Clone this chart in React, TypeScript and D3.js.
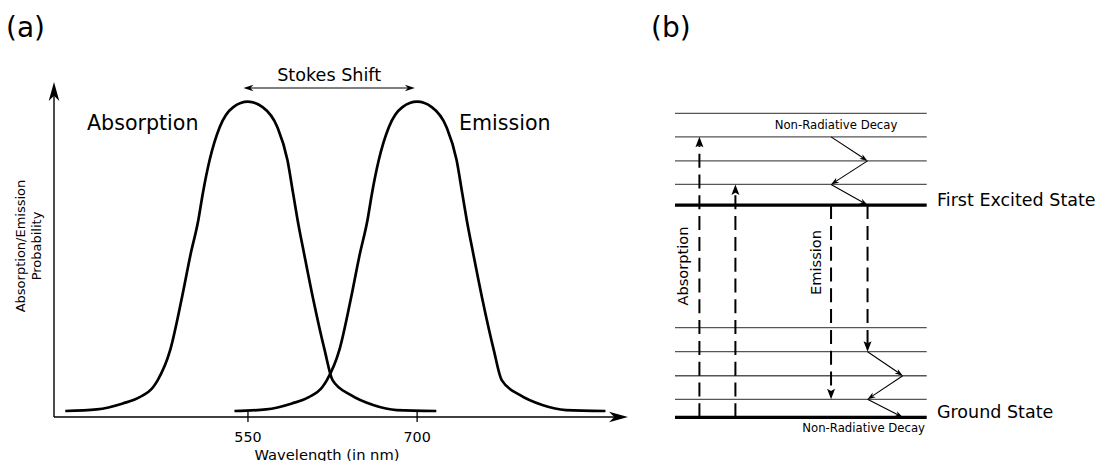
import * as d3 from "d3";
import React, { useEffect, useRef } from "react";

// ---- panel (a): spectra ----
const absorptionWavelength = [388, 416, 439, 454, 466, 470, 481, 491, 499, 506, 510, 516, 525, 537, 550, 563, 576, 585, 590, 594, 600, 608, 618, 625, 641, 661, 682, 717];
const absorptionProbability = [0.019, 0.024, 0.043, 0.063, 0.095, 0.117, 0.212, 0.371, 0.514, 0.625, 0.71, 0.815, 0.92, 0.983, 1.0, 0.983, 0.92, 0.815, 0.71, 0.625, 0.514, 0.371, 0.212, 0.117, 0.07, 0.038, 0.022, 0.019];
const emissionWavelength = [538, 566, 589, 604, 616, 620, 631, 641, 649, 656, 660, 666, 675, 687, 700, 713, 726, 735, 740, 744, 750, 758, 768, 775, 791, 811, 832, 867];
const emissionProbability = [0.019, 0.024, 0.043, 0.063, 0.095, 0.117, 0.212, 0.371, 0.514, 0.625, 0.71, 0.815, 0.92, 0.983, 1.0, 0.983, 0.92, 0.815, 0.71, 0.625, 0.514, 0.371, 0.212, 0.117, 0.07, 0.038, 0.022, 0.019];
const xTicks = [550, 700];
const stokesFrom = 546;
const stokesTo = 698;

// ---- panel (b): energy levels (arbitrary units) ----
const groundLevels = [0, 0.75, 1.73, 2.73, 3.73];
const excitedLevels = [8.83, 9.69, 10.67, 11.67, 12.65];
const absorptionX = [0.97, 2.4];
const absorptionTarget = [3, 1]; // excited level index
const emissionX = [6.2, 7.65];
const emissionTarget = [1, 3]; // ground level index
const upperDecay = [[6.2, 3], [7.65, 2], [6.2, 1], [7.65, 0]];
const lowerDecay = [[7.65, 3], [9.05, 2], [7.65, 1], [9.05, 0]];

const FONT = "DejaVu Sans, Verdana, sans-serif";

function App() {
  const ref = useRef<SVGSVGElement>(null);

  useEffect(() => draw(), []);

  function head(g: any, x: number, y: number, angle: number, L: number, W: number, notch: number) {
    g.append("path")
      .attr("d", `M0,0L${-L},${-W}L${-L * notch},0L${-L},${W}Z`)
      .attr("transform", `translate(${x},${y}) rotate(${angle})`)
      .attr("fill", "#000");
  }

  function arrow(g: any, x1: number, y1: number, x2: number, y2: number, opts: any) {
    const { L, W, notch, width, dash, color } = opts;
    const ang = Math.atan2(y2 - y1, x2 - x1);
    const back = L * notch;
    g.append("line")
      .attr("x1", x1)
      .attr("y1", y1)
      .attr("x2", x2 - Math.cos(ang) * back)
      .attr("y2", y2 - Math.sin(ang) * back)
      .attr("stroke", color || "#000")
      .attr("stroke-width", width)
      .attr("stroke-dasharray", dash || null);
    head(g, x2, y2, (ang * 180) / Math.PI, L, W, notch);
  }

  function draw() {
    const svg = d3.select(ref.current);
    svg.selectAll("*").remove();

    // ================= panel (a) =================
    const x = d3.scaleLinear().domain([378, 887]).range([54, 628]);
    const y = d3.scaleLinear().domain([0, 1]).range([417, 101.7]);
    const a = svg.append("g");

    a.append("text").attr("x", 6).attr("y", 36.5).attr("font-size", 28).text("(a)");

    // axes
    arrow(a, x(378), y(0), x(887), y(0), { L: 19, W: 5.3, notch: 0.72, width: 1.4 });
    arrow(a, x(378), y(0), x(378), 82, { L: 19, W: 5.3, notch: 0.72, width: 1.4 });

    a.selectAll(".tick")
      .data(xTicks)
      .enter()
      .append("line")
      .attr("x1", (d) => x(d))
      .attr("x2", (d) => x(d))
      .attr("y1", y(0) - 5)
      .attr("y2", y(0) + 5)
      .attr("stroke", "#000")
      .attr("stroke-width", 1.3);

    a.selectAll(".tl")
      .data(xTicks)
      .enter()
      .append("text")
      .attr("x", (d) => x(d))
      .attr("y", 442)
      .attr("text-anchor", "middle")
      .attr("font-size", 14.3)
      .text((d) => d);

    a.append("text")
      .attr("x", 327)
      .attr("y", 460)
      .attr("text-anchor", "middle")
      .attr("font-size", 14.7)
      .text("Wavelength (in nm)");

    const yl = a.append("text").attr("transform", "translate(25,246) rotate(-90)").attr("text-anchor", "middle").attr("font-size", 13);
    yl.append("tspan").attr("x", 0).attr("y", 0).text("Absorption/Emission");
    yl.append("tspan").attr("x", 0).attr("y", 16).text("Probability");

    const line = d3
      .line<number>()
      .x((d) => x(d))
      .curve(d3.curveMonotoneX);

    a.append("path")
      .attr("d", line.y((_, i) => y(absorptionProbability[i]))(absorptionWavelength))
      .attr("fill", "none")
      .attr("stroke", "#000")
      .attr("stroke-width", 2.7);
    a.append("path")
      .attr("d", line.y((_, i) => y(emissionProbability[i]))(emissionWavelength))
      .attr("fill", "none")
      .attr("stroke", "#000")
      .attr("stroke-width", 2.7);

    a.append("text").attr("x", 87).attr("y", 130).attr("font-size", 20.6).text("Absorption");
    a.append("text").attr("x", 459).attr("y", 130).attr("font-size", 20.6).text("Emission");

    // stokes shift
    const sy = 88;
    arrow(a, (x(stokesFrom) + x(stokesTo)) / 2, sy, x(stokesFrom), sy, { L: 10, W: 3.2, notch: 0.7, width: 1.1 });
    arrow(a, (x(stokesFrom) + x(stokesTo)) / 2, sy, x(stokesTo), sy, { L: 10, W: 3.2, notch: 0.7, width: 1.1 });
    a.append("text")
      .attr("x", (x(stokesFrom) + x(stokesTo)) / 2)
      .attr("y", 81)
      .attr("text-anchor", "middle")
      .attr("font-size", 17.6)
      .text("Stokes Shift");

    // ================= panel (b) =================
    const bx = d3.scaleLinear().domain([0, 10]).range([675, 926.7]);
    const by = d3.scaleLinear().domain([0, 12.65]).range([417.3, 113.3]);
    const b = svg.append("g");

    b.append("text").attr("x", 651).attr("y", 36.5).attr("font-size", 28).text("(b)");

    const levels = groundLevels.map((e, i) => ({ e, thick: i === 0 })).concat(excitedLevels.map((e, i) => ({ e, thick: i === 0 })));
    b.selectAll(".lvl")
      .data(levels)
      .enter()
      .append("line")
      .attr("x1", bx(0))
      .attr("x2", bx(10))
      .attr("y1", (d) => by(d.e))
      .attr("y2", (d) => by(d.e))
      .attr("stroke", (d) => (d.thick ? "#000" : "#555"))
      .attr("stroke-width", (d) => (d.thick ? 3.2 : 1.3));

    const dashed = { L: 10.5, W: 4, notch: 0.8, width: 2, dash: "14,6.8" };
    absorptionX.forEach((px, i) => {
      arrow(b, bx(px), by(groundLevels[0]), bx(px), by(excitedLevels[absorptionTarget[i]]), dashed);
    });
    emissionX.forEach((px, i) => {
      arrow(b, bx(px), by(excitedLevels[0]), bx(px), by(groundLevels[emissionTarget[i]]), dashed);
    });

    const thin = { L: 8, W: 2.8, notch: 0.7, width: 1.1 };
    for (let i = 1; i < upperDecay.length; i++) {
      const [x0, l0] = upperDecay[i - 1];
      const [x1, l1] = upperDecay[i];
      arrow(b, bx(x0), by(excitedLevels[l0]), bx(x1), by(excitedLevels[l1]), thin);
    }
    for (let i = 1; i < lowerDecay.length; i++) {
      const [x0, l0] = lowerDecay[i - 1];
      const [x1, l1] = lowerDecay[i];
      arrow(b, bx(x0), by(groundLevels[l0]), bx(x1), by(groundLevels[l1]), thin);
    }

    b.append("text").attr("x", 836).attr("y", 129.3).attr("text-anchor", "middle").attr("font-size", 11.7).text("Non-Radiative Decay");
    b.append("text").attr("x", 925).attr("y", 432).attr("text-anchor", "end").attr("font-size", 11.7).text("Non-Radiative Decay");

    b.append("text").attr("transform", "translate(688,266) rotate(-90)").attr("text-anchor", "middle").attr("font-size", 14.6).text("Absorption");
    b.append("text").attr("transform", "translate(820.5,262.5) rotate(-90)").attr("text-anchor", "middle").attr("font-size", 14.6).text("Emission");

    b.append("text").attr("x", 937).attr("y", 206).attr("font-size", 17.5).text("First Excited State");
    b.append("text").attr("x", 937).attr("y", 418).attr("font-size", 17.5).text("Ground State");
  }

  return (
    <svg
      ref={ref}
      width={1098}
      height={461}
      style={{ position: "absolute", left: 0, top: 0, background: "#fff", fontFamily: FONT }}
      fontFamily={FONT}
    />
  );
}

export default App;
